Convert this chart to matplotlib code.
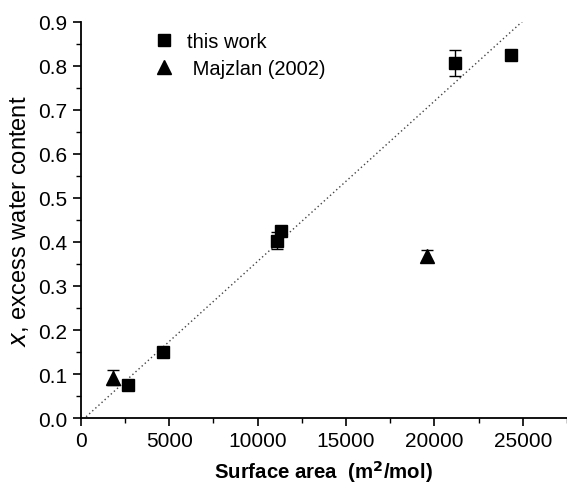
import numpy as np
import matplotlib
matplotlib.use("Agg")
import matplotlib.pyplot as plt
from matplotlib.ticker import MultipleLocator

plt.rcParams['font.family'] = ['Liberation Sans', 'DejaVu Sans']

# data
work_area = [2650, 4650, 11070, 11320, 21160, 24320]
work_x = [0.075, 0.149, 0.403, 0.426, 0.807, 0.826]
work_err = [0.0, 0.0, 0.02, 0.0, 0.03, 0.0]

majz_area = [1830, 19575]
majz_x = [0.091, 0.369]
majz_err = [0.017, 0.012]

# dotted reference line
fit_slope = 3.64e-5
fit_zero = 220
fit_range = [300, 25200]

fig = plt.figure(figsize=(5.67, 4.89), dpi=100)
ax = fig.add_axes([0.1425, 0.1431, 0.8575, 0.81])

lx = np.array(fit_range)
ax.plot(lx, fit_slope * (lx - fit_zero), color='#444444', linestyle=(0, (1, 2.0)), linewidth=1.0)

ax.errorbar(work_area, work_x, yerr=work_err, fmt='s', color='black', markersize=8,
            elinewidth=1, capsize=4, capthick=1, label='this work')
ax.errorbar(majz_area, majz_x, yerr=majz_err, fmt='^', color='black', markersize=10,
            elinewidth=1, capsize=4, capthick=1, label=' Majzlan (2002)')

ax.set_xlim(0, 27500)
ax.set_ylim(0, 0.9)
ax.xaxis.set_major_locator(MultipleLocator(5000))
ax.xaxis.set_minor_locator(MultipleLocator(2500))
ax.yaxis.set_minor_locator(MultipleLocator(0.05))
ax.set_yticks(np.arange(0, 0.91, 0.1))
ax.set_yticklabels([f"{v:.1f}" for v in np.arange(0, 0.91, 0.1)])

ax.spines['top'].set_visible(False)
ax.spines['right'].set_visible(False)
ax.spines['left'].set_linewidth(1.3)
ax.spines['bottom'].set_linewidth(1.3)
ax.tick_params(which='major', direction='out', length=6, width=1.2, labelsize=15)
ax.tick_params(which='minor', direction='out', length=3.5, width=1.0)

ax.set_xlabel(r'Surface area  (m$^\mathbf{2}$/mol)', fontsize=14.7, fontweight='bold', labelpad=6)
ax.set_ylabel(r'$x$, excess water content', fontsize=17, labelpad=5)

handles, labels = ax.get_legend_handles_labels()
handles = [h[0] for h in handles]
ax.legend(handles, labels, loc='upper left', bbox_to_anchor=(0.11, 1.02), frameon=False,
          fontsize=14.5, handlelength=1.2, handletextpad=0.5, labelspacing=0.4)

fig.savefig("out.png", dpi=100)
